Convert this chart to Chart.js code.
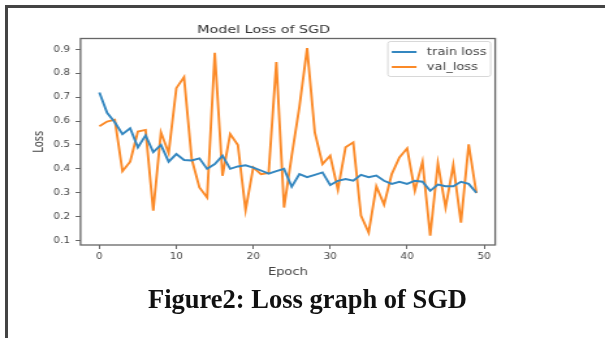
<!DOCTYPE html>
<html>
<head>
<meta charset="utf-8">
<script src="https://cdn.jsdelivr.net/npm/chart.js@4"></script>
<style>
  html, body { margin: 0; padding: 0; background: #fff; }
  #wrap { position: relative; width: 605px; height: 338px; overflow: hidden; }
  #frame { position: absolute; left: 5px; top: 5px; width: 640px; height: 400px;
           border-top: 3px solid #444; border-left: 3px solid #444; }
  /* the source figure is stretched sideways, so the canvas is too */
  #chart { position: absolute; left: 0; top: 0; transform: scaleX(1.3011); transform-origin: 0 0; }
  #caption { position: absolute; left: 0; width: 615px; top: 284px; text-align: center;
             font-family: "Liberation Serif", serif; font-weight: bold; font-size: 26.5px;
             line-height: 30px; color: #111; }
</style>
</head>
<body>
<div id="wrap">
  <div id="frame"></div>
  <canvas id="chart" width="465" height="338"></canvas>
  <div id="caption">Figure2: Loss graph of SGD</div>
</div>
<script>
const epochs = [0,1,2,3,4,5,6,7,8,9,10,11,12,13,14,15,16,17,18,19,20,21,22,23,24,
                25,26,27,28,29,30,31,32,33,34,35,36,37,38,39,40,41,42,43,44,45,46,47,48,49];

const trainLoss = [0.72,0.635,0.595,0.545,0.57,0.49,0.54,0.47,0.50,0.43,
                   0.462,0.437,0.435,0.444,0.40,0.42,0.455,0.40,0.41,0.415,
                   0.405,0.393,0.38,0.39,0.40,0.325,0.378,0.365,0.375,0.385,
                   0.332,0.35,0.357,0.35,0.375,0.365,0.372,0.35,0.337,0.346,
                   0.337,0.35,0.346,0.308,0.334,0.327,0.327,0.346,0.337,0.30];

const valLoss = [0.578,0.598,0.606,0.39,0.43,0.556,0.563,0.225,0.553,0.466,
                 0.738,0.784,0.441,0.322,0.28,0.886,0.371,0.546,0.50,0.227,
                 0.406,0.378,0.383,0.847,0.238,0.455,0.66,0.906,0.553,0.42,
                 0.455,0.313,0.49,0.511,0.204,0.133,0.327,0.25,0.378,0.448,
                 0.486,0.308,0.43,0.12,0.423,0.238,0.416,0.175,0.503,0.298];

const xTicks = [0, 10, 20, 30, 40, 50];
const yTicks = [0.1, 0.2, 0.3, 0.4, 0.5, 0.6, 0.7, 0.8, 0.9];
const seriesNames = ["train loss", "val_loss"];

const FONT = "'DejaVu Sans', sans-serif";
const TXT = "#444";

// draws the four spines and the boxed legend in the upper right
const framePlugin = {
  id: "framePlugin",
  afterDatasetsDraw(chart) {
    const ctx = chart.ctx;
    const a = chart.chartArea;
    ctx.save();
    ctx.strokeStyle = "#666";
    ctx.lineWidth = 1.3;
    ctx.strokeRect(a.left, a.top, a.right - a.left, a.bottom - a.top);

    const w = 79, h = 35;
    const x = a.right - 3.5 - w, y = a.top + 3;
    ctx.beginPath();
    ctx.roundRect(x, y, w, h, 2);
    ctx.fillStyle = "rgba(255,255,255,0.85)";
    ctx.fill();
    ctx.strokeStyle = "#d8d8d8";
    ctx.lineWidth = 1;
    ctx.stroke();

    ctx.font = "10px " + FONT;
    ctx.textBaseline = "middle";
    chart.data.datasets.forEach((ds, i) => {
      const ly = y + 10.5 + i * 15;
      ctx.strokeStyle = ds.borderColor;
      ctx.lineWidth = 2;
      ctx.beginPath();
      ctx.moveTo(x + 3, ly);
      ctx.lineTo(x + 22, ly);
      ctx.stroke();
      ctx.fillStyle = TXT;
      ctx.fillText(ds.label, x + 30, ly + 0.5);
    });
    ctx.restore();
  }
};

const ctx = document.getElementById("chart").getContext("2d");
new Chart(ctx, {
  type: "line",
  data: {
    datasets: [
      {
        label: seriesNames[0],
        data: epochs.map((e, i) => ({ x: e, y: trainLoss[i] })),
        borderColor: "#3487c0",
        borderWidth: 1.9,
        pointRadius: 0,
        tension: 0,
        fill: false
      },
      {
        label: seriesNames[1],
        data: epochs.map((e, i) => ({ x: e, y: valLoss[i] })),
        borderColor: "#fb8a28",
        borderWidth: 1.9,
        pointRadius: 0,
        tension: 0,
        fill: false
      }
    ]
  },
  options: {
    responsive: false,
    animation: false,
    layout: { padding: { left: 24.8, top: 23.4, right: 84.4, bottom: 60 } },
    plugins: {
      legend: { display: false },
      tooltip: { enabled: false },
      title: {
        display: true,
        text: "Model Loss of SGD",
        color: "#333",
        font: { family: FONT, size: 11, weight: "normal" },
        padding: { top: 0, bottom: 1.9 }
      }
    },
    scales: {
      x: {
        type: "linear",
        min: -2.45,
        max: 51.45,
        afterBuildTicks: s => { s.ticks = xTicks.map(v => ({ value: v })); },
        afterFit: s => { s.height = 33; },
        ticks: { color: TXT, font: { family: FONT, size: 8 }, padding: 3.2, maxRotation: 0,
                 callback: v => String(v) },
        grid: { drawOnChartArea: false, drawTicks: true, tickLength: 4, color: "#666" },
        border: { display: false },
        title: { display: true, text: "Epoch", color: TXT, font: { family: FONT, size: 10 },
                 padding: { top: 0, bottom: 0 } }
      },
      y: {
        min: 0.081,
        max: 0.946,
        afterBuildTicks: s => { s.ticks = yTicks.map(v => ({ value: v })); },
        afterFit: s => { s.width = 37.1; },
        ticks: { color: TXT, font: { family: FONT, size: 8 }, padding: 4.3,
                 callback: v => Number(v).toFixed(1) },
        grid: { drawOnChartArea: false, drawTicks: true, tickLength: 3.8, color: "#666" },
        border: { display: false },
        title: { display: true, text: "Loss", color: TXT, font: { family: FONT, size: 10 },
                 padding: { top: 0, bottom: 0 } }
      }
    }
  },
  plugins: [framePlugin]
});
</script>
</body>
</html>
